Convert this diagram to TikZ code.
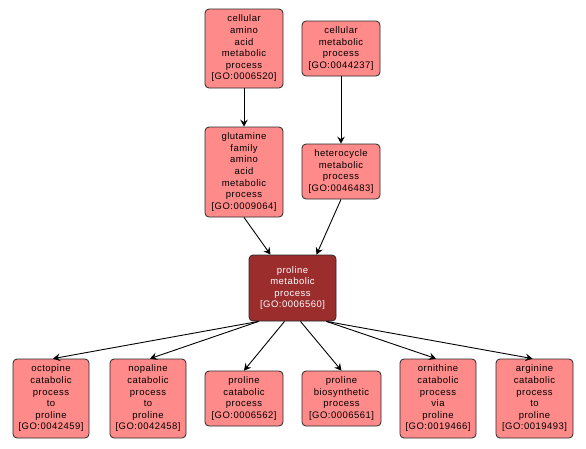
\documentclass[tikz,border=0pt]{standalone}
\usepackage{fontspec}
\setmainfont{Liberation Sans}[LetterSpace=5]
\usetikzlibrary{arrows.meta}
\definecolor{lightred}{RGB}{255,138,138}
\definecolor{darkred}{RGB}{155,45,45}
\definecolor{edgegray}{RGB}{40,40,40}
\tikzset{
  gobox/.style={draw=edgegray, line width=0.8pt, fill=lightred, rounded corners=4pt,
    align=center, inner sep=0pt, font=\fontsize{9.5}{11.6}\selectfont, text=black},
  hibox/.style={gobox, fill=darkred, text=white},
  goarrow/.style={draw=black, line width=0.9pt, -{Stealth[length=7pt,width=7.5pt,inset=2.5pt]}}
}
\begin{document}
\begin{tikzpicture}[x=1pt,y=-1pt]
\useasboundingbox (0,0) rectangle (586,448);
\node[gobox, minimum width=78pt, minimum height=79pt] (b1) at (244,48.5) {cellular\\amino\\acid\\metabolic\\process\\{[GO:0006520]}};
\node[gobox, minimum width=78pt, minimum height=55pt] (b2) at (341,48.5) {cellular\\metabolic\\process\\{[GO:0044237]}};
\node[gobox, minimum width=78pt, minimum height=90pt] (b3) at (244,172) {glutamine\\family\\amino\\acid\\metabolic\\process\\{[GO:0009064]}};
\node[gobox, minimum width=78pt, minimum height=55pt] (b4) at (341,171.5) {heterocycle\\metabolic\\process\\{[GO:0046483]}};
\node[hibox, minimum width=87pt, minimum height=66pt] (c) at (292.5,288) {proline\\metabolic\\process\\{[GO:0006560]}};
\node[gobox, minimum width=76pt, minimum height=79pt] (o) at (51,398.5) {octopine\\catabolic\\process\\to\\proline\\{[GO:0042459]}};
\node[gobox, minimum width=76pt, minimum height=79pt] (n) at (148,398.5) {nopaline\\catabolic\\process\\to\\proline\\{[GO:0042458]}};
\node[gobox, minimum width=78pt, minimum height=55pt] (pc) at (244,398.5) {proline\\catabolic\\process\\{[GO:0006562]}};
\node[gobox, minimum width=79pt, minimum height=55pt] (pb) at (341.5,398.5) {proline\\biosynthetic\\process\\{[GO:0006561]}};
\node[gobox, minimum width=76pt, minimum height=79pt] (orn) at (438,398.5) {ornithine\\catabolic\\process\\via\\proline\\{[GO:0019466]}};
\node[gobox, minimum width=77pt, minimum height=79pt] (arg) at (534.5,398.5) {arginine\\catabolic\\process\\to\\proline\\{[GO:0019493]}};
\draw[goarrow] (b1.south) -- (b3.north);
\draw[goarrow] (b2.south) -- (b4.north);
\draw[goarrow] (b3.south) -- ([xshift=-22pt]c.north);
\draw[goarrow] (b4.south) -- ([xshift=24pt]c.north);
\draw[goarrow] ([xshift=10pt]c.south west) -- ([xshift=2pt]o.north);
\draw[goarrow] ([xshift=10pt]c.south west) -- ([xshift=2pt]n.north);
\draw[goarrow] ([xshift=-8pt]c.south) -- (pc.north);
\draw[goarrow] ([xshift=8pt]c.south) -- (pb.north);
\draw[goarrow] ([xshift=-10pt]c.south east) -- ([xshift=-2pt]orn.north);
\draw[goarrow] ([xshift=-10pt]c.south east) -- ([xshift=-2pt]arg.north);
\end{tikzpicture}
\end{document}
